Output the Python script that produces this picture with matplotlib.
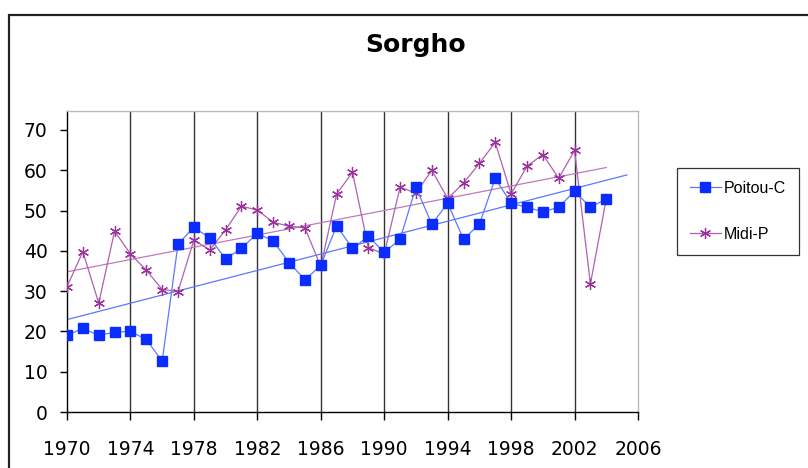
import matplotlib
matplotlib.use("Agg")
import matplotlib.pyplot as plt
import numpy as np
from matplotlib.patches import Rectangle

years = list(range(1970, 2005))
poitou = [19.0, 20.8, 19.0, 19.8, 20.0, 18.0, 12.6, 41.7, 45.8, 43.2, 38.0, 40.6,
          44.4, 42.4, 37.1, 32.8, 36.4, 46.2, 40.6, 43.6, 39.6, 42.9, 55.8, 46.6,
          51.8, 42.9, 46.6, 58.0, 51.8, 50.8, 49.7, 50.8, 54.8, 50.8, 52.9]
midi = [31.1, 39.8, 27.0, 44.9, 39.2, 35.2, 30.4, 29.9, 42.7, 40.2, 45.2, 51.1,
        50.1, 47.1, 46.1, 45.7, 36.1, 54.1, 59.5, 40.8, 39.2, 55.8, 54.3, 60.0,
        53.0, 56.8, 61.7, 66.9, 54.1, 61.0, 63.9, 58.0, 64.9, 31.8, 52.9]
xticks = list(range(1970, 2007, 4))
yticks = list(range(0, 71, 10))
title = "Sorgho"
labels = ["Poitou-C", "Midi-P"]

W, H = 808, 468
fig = plt.figure(figsize=(W / 100, H / 100), dpi=100)
ax = fig.add_axes([67 / W, 1 - 412 / H, (638 - 67) / W, (412 - 111) / H])

x = np.array(years, dtype=float)
p_arr = np.array(poitou)
m_arr = np.array(midi)

# trend lines (linear fits)
cp = np.polyfit(x, p_arr, 1)
cm = np.polyfit(x, m_arr, 1)
xp = np.array([1970, 2005.3])
xm = np.array([1970, 2004])
ax.plot(xp, np.polyval(cp, xp), color="#5a78ff", lw=0.9, zorder=2)
ax.plot(xm, np.polyval(cm, xm), color="#c07ab8", lw=0.9, zorder=2)

l1, = ax.plot(x, p_arr, color="#5b7bff", lw=0.9, marker="s", ms=7.3,
              mfc="#0a2cff", mec="#0a2cff", zorder=4, label=labels[0])
l2, = ax.plot(x, m_arr, color="#b060b0", lw=0.9, marker=(6, 2, 0), ms=8,
              mec="#993399", mew=0.9, zorder=3, label=labels[1])

ax.set_xlim(1970, 2006)
ax.set_ylim(0, 74.7)
ax.set_xticks(xticks)
ax.set_yticks(yticks)
ax.set_xticklabels([str(t) for t in xticks])
ax.set_yticklabels([str(t) for t in yticks])
ax.tick_params(axis="x", direction="out", length=6, width=1, pad=14,
               labelsize=13.5, colors="black")
ax.tick_params(axis="y", direction="out", length=5, width=1, pad=9,
               labelsize=13.5, colors="black")

for t in xticks[1:-1]:
    ax.axvline(t, color="#333333", lw=1.0, zorder=1)

ax.spines["left"].set_color("black")
ax.spines["bottom"].set_color("black")
ax.spines["top"].set_color("#bbbbbb")
ax.spines["right"].set_color("#bbbbbb")
for s in ax.spines.values():
    s.set_linewidth(1.0)

leg = fig.legend(handles=[l1, l2], labels=labels, loc="upper left",
                 bbox_to_anchor=(677 / W, 1 - 168 / H),
                 prop={"family": "Liberation Sans", "size": 11.5},
                 frameon=True, fancybox=False, edgecolor="black",
                 handlelength=1.95, handletextpad=0.2, labelspacing=1.95,
                 borderpad=0.8, borderaxespad=0)
leg.get_frame().set_linewidth(0.9)

fig.text(416 / W, 1 - 52 / H, title, ha="center", va="baseline",
         fontsize=18, fontweight="bold")

fig.patches.append(Rectangle((8.5 / W, -0.2), 1.5, (1 - 14.5 / H) + 0.2,
                             transform=fig.transFigure, fill=False,
                             edgecolor="#222222", lw=1.6))

fig.savefig("out.png", dpi=100)
